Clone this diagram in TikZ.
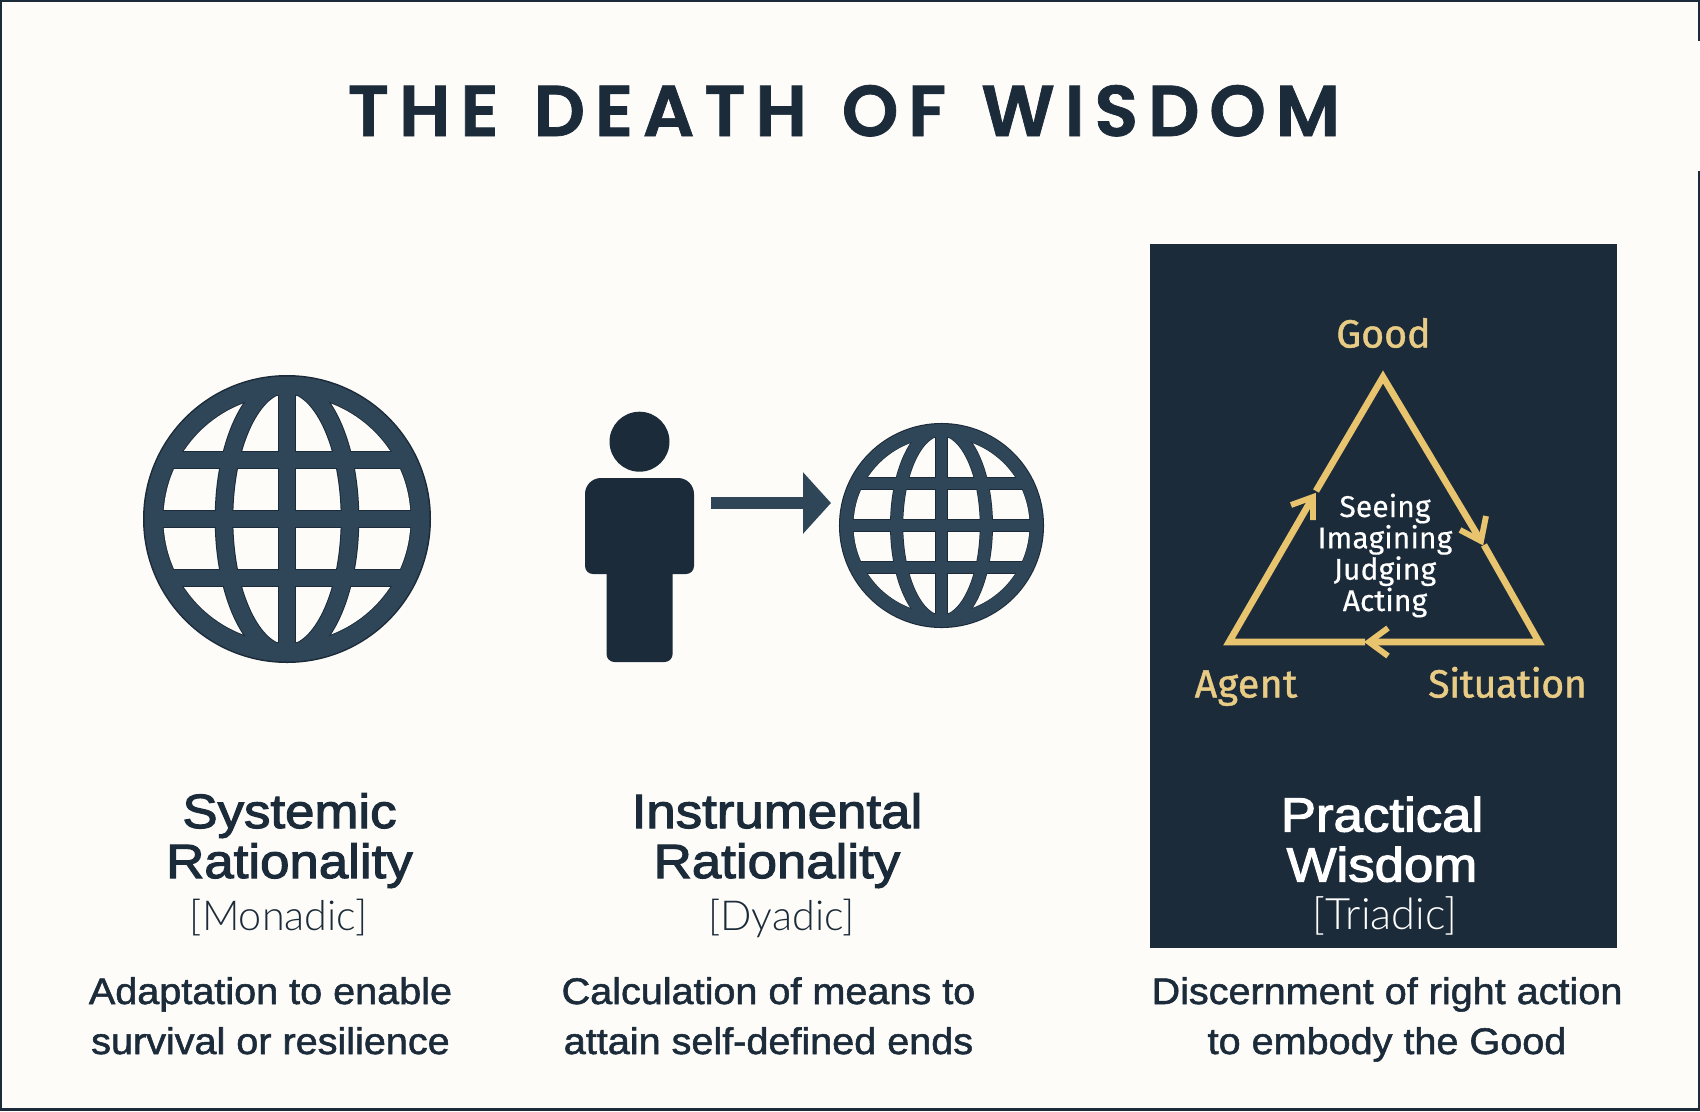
\documentclass[tikz,border=0pt]{standalone}
\usepackage{fontspec}
\usetikzlibrary{arrows.meta}
\setmainfont{Liberation Sans}
\newfontfamily\titlef[LetterSpace=13.5,WordSpace=1.3,FakeBold=1.0]{Poppins SemiBold}
\newfontfamily\headf[FakeBold=2.4,FakeStretch=1.1]{Liberation Sans}
\newfontfamily\descf[FakeBold=1.5,FakeStretch=1.07]{Liberation Sans}
\newfontfamily\tagf{Lato Light}
\newfontfamily\labf[FakeBold=1.2]{Fira Sans}
\newfontfamily\labtight[FakeBold=1.2,LetterSpace=-1.2]{Fira Sans}
\newfontfamily\labwide[FakeBold=1.2,LetterSpace=1]{Fira Sans}
\newfontfamily\innerf[LetterSpace=0.3,FakeBold=0.4]{Fira Sans}
\definecolor{paper}{HTML}{FDFCF8}
\definecolor{ink}{HTML}{1C2B3A}
\definecolor{slateblue}{HTML}{2F4558}
\definecolor{gold}{HTML}{E8C46E}
\definecolor{goldtext}{HTML}{E8CB84}
\tikzset{
  txt/.style={anchor=base,inner sep=0pt,outer sep=0pt,align=center},
  heading/.style={txt,text=ink,font=\headf\fontsize{36}{37.5}\selectfont},
  tag/.style={txt,text=ink,font=\tagf\fontsize{31}{36}\selectfont},
  desc/.style={txt,text=ink,font=\descf\fontsize{27.75}{37.5}\selectfont},
  lab/.style={txt,text=goldtext,font=\labf\fontsize{29.5}{34}\selectfont},
  tri/.style={draw=gold,line width=5pt,line cap=butt,line join=miter},
  barb/.style={draw=gold,line width=4.4pt,line cap=butt,line join=miter},
}
% globe icon: centre, scale relative to the large one
\newcommand{\globeicon}[3]{%
  \begin{scope}[shift={(#1,#2)},x=#3*0.75pt,y=#3*0.75pt]
    \fill[ink] (0,0) circle[radius=144];
    \fill[paper] (0,0) circle[radius=123.5];
    \begin{scope}
      \clip (0,0) circle[radius=125];
      \foreach \lw/\col in {18.6/ink,16.6/slateblue}{
        \draw[\col,line width=#3*\lw*0.75pt] (0,-250) -- (0,250);
        \draw[\col,line width=#3*\lw*0.75pt] (-150,0) -- (150,0);
        \draw[\col,line width=#3*\lw*0.75pt] (-150,59) -- (150,59);
        \draw[\col,line width=#3*\lw*0.75pt] (-150,-59) -- (150,-59);
        \draw[\col,line width=#3*\lw*0.75pt] (0,0) ellipse[x radius=63,y radius=135];
      }
    \end{scope}
    \draw[slateblue,line width=#3*18*0.75pt] (0,0) circle[radius=133.5];
  \end{scope}}
\begin{document}
\begin{tikzpicture}[x=0.75pt,y=-0.75pt]
\useasboundingbox (0,0) rectangle (1700,1111);
\fill[paper] (0,0) rectangle (1700,1111);
% frame
\fill[ink] (0,0) rectangle (1700,2);
\fill[ink] (0,0) rectangle (2,1111);
\fill[ink] (0,1108) rectangle (1700,1111);
\fill[ink] (1698,0) rectangle (1700,41);
\fill[ink] (1698,171) rectangle (1700,1111);
% title
\node[txt,text=ink,font=\titlef\fontsize{54}{60}\selectfont] (title) at (844,136) {THE DEATH OF WISDOM};
% globes
\globeicon{287}{519}{1}
\globeicon{941.5}{525.5}{0.712}
% person
\fill[ink] (639.5,441.7) circle[radius=30];
\fill[ink,rounded corners=6pt] (606.5,560) -- (606.5,662) -- (672.6,662) -- (672.6,560) -- cycle;
\fill[ink] (585,494) arc[start angle=180,end angle=270,radius=16] -- (678,478) arc[start angle=270,end angle=360,radius=16] -- (694,566) arc[start angle=0,end angle=90,radius=8] -- (593,574) arc[start angle=90,end angle=180,radius=8] -- cycle;
% arrow
\coordinate (arrS) at (711,503);
\coordinate (arrT) at (831,503);
\draw[slateblue,line width=9pt,-{Triangle[length=21pt,width=45pt]}] (arrS) -- (arrT);
% dark panel
\fill[ink] (1150,244) rectangle (1617,948);
% triangle
\coordinate (vG) at (1383,377);
\coordinate (vA) at (1229,642);
\coordinate (vS) at (1539,642);
\coordinate (tL) at (1313,497);
\coordinate (rL) at (1316,491);
\coordinate (tR) at (1481,541);
\coordinate (rR) at (1484,545);
\coordinate (tB) at (1369,642);
\coordinate (rB) at (1365,642);
\draw[tri] (rL) -- (vG) -- (tR);
\draw[tri] (rR) -- (vS) -- (tB);
\draw[tri] (rB) -- (vA) -- (tL);
\draw[barb] (1291,505) -- (tL) -- (1313,520);
\draw[barb] (1486,516) -- (tR) -- (1460,530);
\draw[barb] (1388,628) -- (tB) -- (1388,656);
% triangle labels
\node[lab] (good) at (1383.5,347.5) {Good};
\node[lab,font=\labwide\fontsize{29.5}{34}\selectfont] (agent) at (1246,697.5) {Agent};
\node[lab,font=\labtight\fontsize{29.5}{34}\selectfont] (situation) at (1507.5,697.5) {Situation};
\node[txt,text=white,font=\innerf\fontsize{22.5}{23.5}\selectfont] (core) at (1385,611) {Seeing\\Imagining\\Judging\\Acting};
% column 1
\node[heading] (h1) at (289.5,878) {Systemic\\Rationality};
\node[tag] (t1) at (278.5,930) {[Monadic]};
\node[desc] (d1) at (270.5,1054) {Adaptation to enable\\survival or resilience};
% column 2
\node[heading] (h2) at (777,878) {Instrumental\\Rationality};
\node[tag] (t2) at (781.5,930) {[Dyadic]};
\node[desc] (d2) at (768.5,1054) {Calculation of means to\\attain self-defined ends};
% column 3
\node[heading,text=white] (h3) at (1382,881.5) {Practical\\Wisdom};
\node[tag,text=white,font=\tagf\fontsize{32.5}{36}\selectfont] (t3) at (1385,929) {[Triadic]};
\node[desc] (d3) at (1387,1054) {Discernment of right action\\to embody the Good};
\end{tikzpicture}
\end{document}
